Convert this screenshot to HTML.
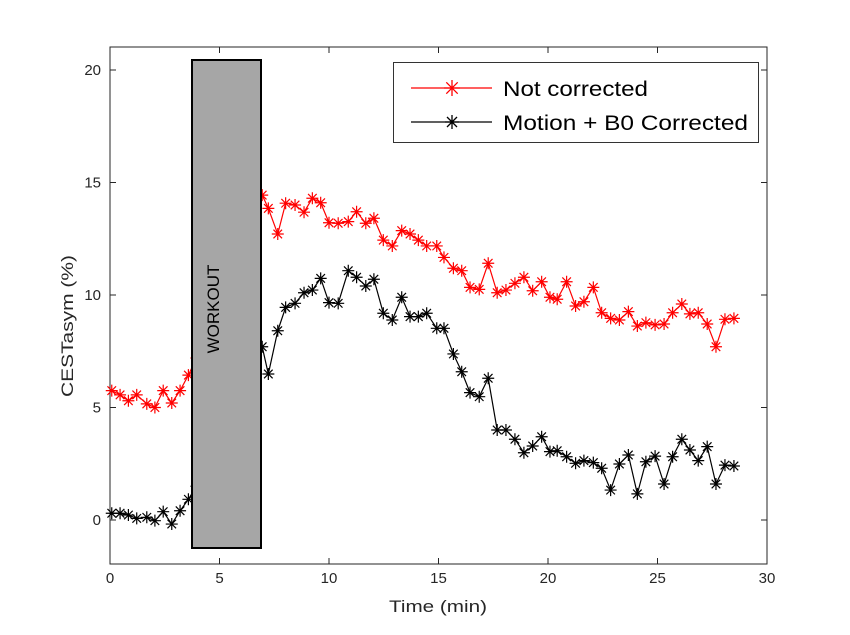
<!DOCTYPE html>
<html><head><meta charset="utf-8"><style>
body{margin:0;background:#fff;}
svg{display:block;font-family:"Liberation Sans",Arial,sans-serif;}
</style></head><body>
<svg id="chart" width="850" height="635" viewBox="0 0 850 635">
<rect width="850" height="635" fill="#fff"/>
<g id="axes"></g>
<g id="series"></g>
<g>
<rect x="192" y="60" width="69" height="488" fill="#a6a6a6" stroke="#000" stroke-width="2"/>
<text x="219" y="309" transform="rotate(-90 219 309)" text-anchor="middle" font-size="17" fill="#000">WORKOUT</text>
</g>
<g>
<rect x="393.5" y="62.5" width="365" height="80" fill="#fff" stroke="#333" stroke-width="1"/>
<g>
<line x1="411" y1="88" x2="492" y2="88" stroke="#ff0000" stroke-width="1.3"/>
<path d="M444 88h16M452 80v16M446.3 82.3l11.4 11.4M457.7 82.3l-11.4 11.4" stroke="#ff0000" stroke-width="1.3"/>
<text x="503" y="96" font-size="21" fill="#000" textLength="145" lengthAdjust="spacingAndGlyphs">Not corrected</text>
</g>
<g>
<line x1="411" y1="122" x2="492" y2="122" stroke="#000" stroke-width="1.3"/>
<path d="M445 122h14M452 115v14M447 117l10 10M457 117l-10 10" stroke="#000" stroke-width="1.3"/>
<text x="503" y="130" font-size="21" fill="#000" textLength="245" lengthAdjust="spacingAndGlyphs">Motion + B0 Corrected</text>
</g>
</g>
</svg>
<script>
const times=[0.08,0.46,0.84,1.22,1.68,2.05,2.43,2.82,3.2,3.58,
3.95,4.32,4.70,5.07,5.45,5.82,6.20,6.57,
6.95,7.23,7.66,8.02,8.45,8.86,9.24,9.62,10.0,10.42,10.88,11.26,11.68,12.05,12.48,12.89,13.32,13.70,14.08,14.46,14.92,
15.25,15.68,16.06,16.44,16.86,17.27,17.68,18.08,18.49,18.90,19.30,19.71,20.09,20.42,20.85,21.26,21.64,22.07,22.45,22.86,23.26,23.67,24.08,24.47,24.89,25.30,25.69,26.11,26.48,26.86,27.27,27.67,28.08,28.49];
const notCorrected=[5.75,5.56,5.3,5.56,5.16,5.0,5.75,5.2,5.75,6.44,
7.2,9,11,12,13,13.5,14,14.3,
14.44,13.85,12.71,14.08,14.0,13.68,14.3,14.1,13.21,13.19,13.26,13.7,13.19,13.41,12.44,12.18,12.86,12.71,12.44,12.18,12.18,
11.67,11.19,11.08,10.34,10.25,11.41,10.1,10.22,10.52,10.79,10.19,10.59,9.9,9.81,10.59,9.51,9.7,10.34,9.21,8.96,8.89,9.26,8.62,8.77,8.67,8.71,9.21,9.6,9.16,9.21,8.71,7.7,8.92,8.96];
const corrected=[0.3,0.3,0.22,0.07,0.12,-0.03,0.37,-0.18,0.41,0.92,
1.5,3,4.5,5.5,6.5,7,7.5,7.8,
7.7,6.49,8.41,9.45,9.63,10.1,10.22,10.74,9.66,9.63,11.08,10.79,10.4,10.7,9.19,8.89,9.9,9.04,9.04,9.19,8.52,
8.52,7.38,6.59,5.66,5.48,6.3,4.0,4.0,3.59,2.99,3.29,3.7,3.04,3.08,2.81,2.52,2.64,2.55,2.3,1.33,2.49,2.89,1.16,2.59,2.84,1.6,2.81,3.59,3.11,2.64,3.26,1.6,2.44,2.4];
const xTicks=[0,5,10,15,20,25,30];
const yTicks=[0,5,10,15,20];
const NS='http://www.w3.org/2000/svg';
const L=110,R=767,T=47,B=564;
const xs=v=>L+v*(R-L)/30;
const ys=v=>520-v*22.5;
function mk(tag,attrs,parent){const e=document.createElementNS(NS,tag);for(const k in attrs)e.setAttribute(k,attrs[k]);parent.appendChild(e);return e;}
const ax=document.getElementById('axes');
const frame=mk('rect',{x:L,y:T,width:R-L,height:B-T,fill:'none',stroke:'#262626','stroke-width':1},ax);


xTicks.forEach(t=>{
 const x=xs(t);
 const tk=mk('path',{d:`M${x} ${B}v-6M${x} ${T}v6`,stroke:'#262626','stroke-width':1},ax);
 
 
 const lb=mk('text',{x:x,y:B+19,'text-anchor':'middle','font-size':15,fill:'#262626'},ax);
 lb.textContent=t;
 
 
});
yTicks.forEach(t=>{
 const y=ys(t);
 const tk=mk('path',{d:`M${L} ${y}h6M${R} ${y}h-6`,stroke:'#262626','stroke-width':1},ax);
 
 
 const lb=mk('text',{x:L-9,y:y+5,'text-anchor':'end','font-size':15,fill:'#262626'},ax);
 lb.textContent=t;
 
 
});
const xt=mk('text',{x:438,y:612,'text-anchor':'middle','font-size':17,fill:'#262626',textLength:98,lengthAdjust:'spacingAndGlyphs'},ax);
xt.textContent='Time (min)';


const yt=mk('text',{x:73,y:326,'text-anchor':'middle','font-size':17,fill:'#262626',textLength:142,lengthAdjust:'spacingAndGlyphs',transform:'rotate(-90 73 326)'},ax);
yt.textContent='CESTasym (%)';


const sg=document.getElementById('series');
function drawSeries(vals,color,name){
 const g=mk('g',{},sg);
 
 
 const pts=vals.map((v,i)=>xs(times[i])+','+ys(v)).join(' ');
 const pl=mk('polyline',{points:pts,fill:'none',stroke:color,'stroke-width':1.2},g);
 
 
 vals.forEach((v,i)=>{
  const x=xs(times[i]),y=ys(v),r=6,d=4.3;
  const m=mk('path',{d:`M${x-r} ${y}h${2*r}M${x} ${y-r}v${2*r}M${x-d} ${y-d}l${2*d} ${2*d}M${x+d} ${y-d}l${-2*d} ${2*d}`,stroke:color,'stroke-width':1.2},g);
  
  
 });
}
drawSeries(notCorrected,'#ff0000','series-not-corrected');
drawSeries(corrected,'#000000','series-corrected');
</script>
</body></html>
